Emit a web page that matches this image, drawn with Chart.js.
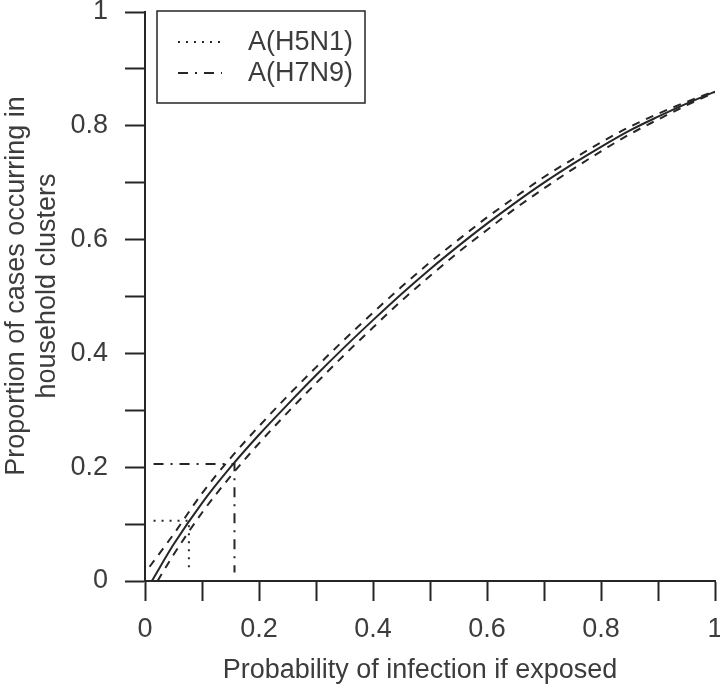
<!DOCTYPE html>
<html>
<head>
<meta charset="utf-8">
<script src="https://cdn.jsdelivr.net/npm/chart.js@4/dist/chart.umd.min.js"></script>
<style>
  html, body { margin: 0; padding: 0; background: #fff; }
  #wrap { width: 720px; height: 687px; }
</style>
</head>
<body>
<div id="wrap"><canvas id="chart" width="720" height="687"></canvas></div>
<script>
// --- data ---
const solidX = [0.012, 0.05, 0.1, 0.15, 0.2, 0.25, 0.3, 0.35, 0.4, 0.45, 0.5, 0.55, 0.6, 0.65, 0.7, 0.75, 0.8, 0.85, 0.9, 0.95, 1.0];
const solidY = [0, 0.064, 0.137, 0.2, 0.257, 0.31, 0.3615, 0.411, 0.4585, 0.5045, 0.548, 0.589, 0.628, 0.665, 0.7, 0.7325, 0.763, 0.7915, 0.816, 0.839, 0.86];
const upperX = [0.008, 0.05, 0.1, 0.15, 0.2, 0.25, 0.3, 0.35, 0.4, 0.45, 0.5, 0.55, 0.6, 0.65, 0.7, 0.75, 0.8, 0.85, 0.9, 0.95, 1.0];
const upperY = [0.025, 0.082, 0.154, 0.216, 0.272, 0.325, 0.3755, 0.4245, 0.4715, 0.517, 0.56, 0.6, 0.639, 0.675, 0.71, 0.741, 0.771, 0.798, 0.821, 0.842, 0.861];
const lowerX = [0.022, 0.05, 0.1, 0.15, 0.2, 0.25, 0.3, 0.35, 0.4, 0.45, 0.5, 0.55, 0.6, 0.65, 0.7, 0.75, 0.8, 0.85, 0.9, 0.95, 1.0];
const lowerY = [0, 0.046, 0.12, 0.184, 0.242, 0.296, 0.3475, 0.3975, 0.4455, 0.4925, 0.536, 0.578, 0.617, 0.655, 0.69, 0.7235, 0.755, 0.785, 0.811, 0.836, 0.859];
// guide lines (x, y) for each virus
const h5n1X = [0.015, 0.077, 0.077];
const h5n1Y = [0.106, 0.106, 0.015];
const h7n9X = [0.015, 0.157, 0.157];
const h7n9Y = [0.2055, 0.2055, 0.015];
const legendLabels = ["A(H5N1)", "A(H7N9)"];
const xTitle = "Probability of infection if exposed";
const yTitle = ["Proportion of cases occurring in", "household clusters"];

const FONT = '"Liberation Sans", Arial, Helvetica, sans-serif';
const lineCol = "#262626";
const textCol = "#3c3c3c";
const DOT = [2, 6];
const DASHDOT = [10, 7, 2, 7];

const pts = (xs, ys) => xs.map((x, i) => ({ x, y: ys[i] }));

function lineSet(data, dash, width) {
  return {
    data,
    showLine: true,
    borderColor: lineCol,
    borderWidth: width,
    borderDash: dash,
    pointRadius: 0,
    cubicInterpolationMode: "monotone",
    fill: false,
  };
}

const tickLabel = (v) => {
  const t = Math.round(v * 10);
  return t % 2 === 0 ? String(t / 10) : "";
};

// titles + legend box
const decorations = {
  id: "decorations",
  afterDraw(chart) {
    const ctx = chart.ctx;
    ctx.save();
    ctx.fillStyle = textCol;
    ctx.font = "27px " + FONT;
    ctx.textBaseline = "alphabetic";

    // x title
    ctx.textAlign = "center";
    ctx.fillText(xTitle, 420, 678);

    // y title (two lines, rotated)
    ctx.save();
    ctx.translate(0, 286);
    ctx.rotate(-Math.PI / 2);
    ctx.fillText(yTitle[0], 0, 23.5);
    ctx.fillText(yTitle[1], 0, 55);
    ctx.restore();

    // legend
    ctx.strokeStyle = lineCol;
    ctx.lineWidth = 1.5;
    ctx.strokeRect(157, 11, 208, 92);
    const rows = [42, 73];
    const dashes = [DOT, DASHDOT];
    ctx.textAlign = "left";
    ctx.textBaseline = "middle";
    rows.forEach((y, i) => {
      ctx.beginPath();
      ctx.setLineDash(dashes[i]);
      ctx.lineWidth = 2;
      ctx.moveTo(178, y);
      ctx.lineTo(222, y);
      ctx.stroke();
      ctx.setLineDash([]);
      ctx.fillText(legendLabels[i], 248, y + 1);
    });
    ctx.restore();
  },
};

const axisBase = {
  type: "linear",
  min: 0,
  max: 1,
  border: { display: true, color: lineCol, width: 2 },
  grid: {
    display: true,
    drawOnChartArea: false,
    drawTicks: true,
    tickLength: 20,
    tickWidth: 2,
    tickColor: lineCol,
    color: lineCol,
  },
};

new Chart(document.getElementById("chart"), {
  type: "scatter",
  data: {
    datasets: [
      lineSet(pts(solidX, solidY), [], 2),
      lineSet(pts(upperX, upperY), [8, 7], 2),
      lineSet(pts(lowerX, lowerY), [8, 7], 2),
      Object.assign(lineSet(pts(h5n1X, h5n1Y), DOT, 2), { cubicInterpolationMode: "default", tension: 0 }),
      Object.assign(lineSet(pts(h7n9X, h7n9Y), DASHDOT, 2), { cubicInterpolationMode: "default", tension: 0 }),
    ],
  },
  options: {
    responsive: false,
    animation: false,
    layout: { padding: { top: 12, right: 5, left: 0, bottom: 0 } },
    plugins: { legend: { display: false }, tooltip: { enabled: false } },
    scales: {
      x: Object.assign({}, axisBase, {
        position: "bottom",
        afterFit(s) {
          s.height = 106;
          s.paddingLeft = 0;
          s.paddingRight = 0;
        },
        ticks: {
          stepSize: 0.1,
          autoSkip: false,
          maxRotation: 0,
          padding: 12,
          color: textCol,
          font: { family: FONT, size: 27 },
          callback: tickLabel,
        },
      }),
      y: Object.assign({}, axisBase, {
        position: "left",
        afterFit(s) {
          s.width = 145;
          s.paddingTop = 0;
          s.paddingBottom = 0;
        },
        ticks: {
          stepSize: 0.1,
          autoSkip: false,
          padding: 17,
          color: textCol,
          font: { family: FONT, size: 27 },
          callback: tickLabel,
        },
      }),
    },
  },
  plugins: [decorations],
});
</script>
</body>
</html>
